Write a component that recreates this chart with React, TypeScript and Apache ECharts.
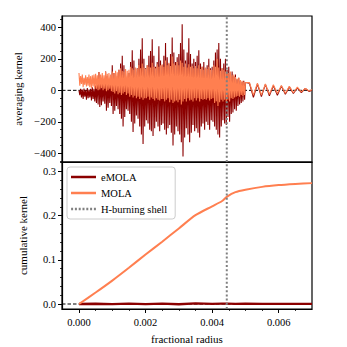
import React, { useEffect, useRef } from "react";
import * as echarts from "echarts";

const FONT = "'Liberation Serif', 'DejaVu Serif', serif";
const EMOLA_COLOR = "#8b0000";
const MOLA_COLOR = "#ff7f50";
const SHELL_COLOR = "#808080";

const X_MIN = -0.00051;
const X_MAX = 0.007;
const KERNEL_MIN = -455;
const KERNEL_MAX = 472;
const CUM_MIN = -0.0113;
const CUM_MAX = 0.3213;
const SHELL_RADIUS = 0.00444;

const xMajorTicks = [0, 0.002, 0.004, 0.006];
const xMinorTicks = [0.0005, 0.001, 0.0015, 0.0025, 0.003, 0.0035, 0.0045, 0.005, 0.0055, 0.0065];
const kernelMajorTicks = [-400, -200, 0, 200, 400];
const kernelMinorTicks = [-450, -350, -300, -250, -150, -100, -50, 50, 100, 150, 250, 300, 350, 450];
const cumMajorTicks = [0, 0.1, 0.2, 0.3];
const cumMinorTicks = [0.02, 0.04, 0.06, 0.08, 0.12, 0.14, 0.16, 0.18, 0.22, 0.24, 0.26, 0.28, 0.32];

// dense sampling grid of the averaging kernels (step 0.000025 from 0 to 0.005)
const denseStep = 0.000025;
// tail sampling (half-periods of the tail oscillation)
const tailX = [0.00512, 0.00524, 0.00536, 0.00548, 0.0056, 0.00572, 0.00584, 0.00596, 0.00608, 0.0062, 0.00632, 0.00644, 0.00656, 0.00668, 0.0068, 0.00692, 0.007];

const eMolaKernelDense = [
  0, -30, 10, -45, 5, -55, 12, -40, 0, -60, 15, -50, 5, -45, 10, -65, 20, -55, 10, -70,
  30, -80, 60, -90, 117, -106, 80, -95, 40, -70, 50, -85, 120, -130, 90, -110, 55, -80, 70, -100,
  160, -150, 110, -130, 70, -100, 90, -120, 130, -150, 170, -180, 220, -230, 160, -170, 90, -120, 80, -130,
  110, -150, 180, -200, 255, -265, 190, -210, 120, -160, 140, -180, 200, -230, 260, -280, 330, -340, 200, -230,
  140, -190, 160, -210, 220, -250, 250, -260, 325, -290, 220, -240, 150, -200, 180, -230, 280, -260, 190, -220,
  160, -210, 220, -250, 300, -280, 210, -240, 170, -220, 230, -270, 335, -350, 240, -280, 180, -230, 210, -260,
  230, -280, 300, -330, 420, -420, 260, -300, 190, -240, 240, -280, 330, -330, 230, -270, 170, -220, 200, -260,
  180, -240, 220, -270, 255, -300, 170, -230, 150, -210, 180, -250, 140, -200, 160, -220, 200, -250, 140, -190,
  150, -200, 190, -230, 240, -250, 260, -280, 300, -300, 200, -230, 140, -190, 170, -210, 200, -220, 130, -170,
  150, -200, 110, -150, 120, -140, 90, -120, 100, -130, 70, -100, 80, -90, 60, -80, 55, -70, 60, -60,
  50,
];
const eMolaKernelTail = [45, -45, 40, -40, 38, -35, 30, -32, 28, -25, 22, -20, 15, -15, 12, -8, 2];

const molaKernelDense = [
  110, 30, 90, 40, 100, 20, 80, 35, 95, 25, 85, 30, 100, 20, 90, 15, 95, 25, 100, 10,
  105, 10, 95, 0, 115, 5, 100, 15, 110, 0, 95, 10, 120, -5, 105, 0, 110, 10, 100, -5,
  120, -10, 110, -20, 125, -5, 115, -25, 130, -15, 140, -30, 125, -20, 120, -10, 135, -30, 125, -20,
  130, -40, 150, -30, 140, -45, 130, -35, 145, -50, 135, -40, 160, -55, 140, -45, 170, -60, 145, -50,
  135, -50, 160, -40, 150, -60, 145, -45, 175, -55, 150, -65, 140, -50, 165, -60, 150, -65, 160, -55,
  165, -55, 150, -70, 190, -60, 160, -50, 175, -75, 155, -60, 215, -80, 170, -70, 160, -65, 180, -75,
  160, -60, 190, -90, 175, -70, 150, -55, 170, -70, 145, -50, 165, -65, 150, -60, 155, -70, 140, -50,
  155, -65, 140, -50, 160, -70, 135, -55, 150, -60, 130, -55, 145, -60, 135, -50, 150, -65, 130, -55,
  130, -50, 160, -80, 150, -70, 200, -100, 145, -75, 125, -60, 140, -70, 130, -60, 120, -75, 115, -60,
  110, -70, 120, -50, 95, -55, 100, -45, 85, -40, 75, -35, 80, -40, 65, -30, 60, -35, 55, -30,
  50,
];
const molaKernelTail = [50, -30, 45, -30, 40, -25, 35, -20, 30, -18, 25, -15, 20, -10, 12, -5, 5];

const cumX = [0, 0.0005, 0.001, 0.0015, 0.002, 0.0025, 0.003, 0.0035, 0.004, 0.0043, 0.00445, 0.0047, 0.005, 0.0055, 0.006, 0.0065, 0.007];
const molaCumulative = [0, 0.026, 0.053, 0.082, 0.112, 0.141, 0.171, 0.201, 0.221, 0.233, 0.243, 0.253, 0.2585, 0.265, 0.269, 0.2715, 0.2735];
const eMolaCumulative = [0, 0.0006, -0.0004, 0.0008, -0.0003, 0.001, -0.0005, 0.0012, 0.0003, 0.001, 0.0008, 0.0004, 0.0006, 0.0002, 0.0005, 0.0001, 0.0003];

const kernelSeries = (dense: number[], tail: number[]) => [
  ...dense.map((v, i) => [i * denseStep, v]),
  ...tail.map((v, i) => [tailX[i], v]),
];

const minus = (s: string) => s.replace("-", "\u2212");

// legend icons: a solid bar and a row of dots, both 25 x 2.5
const BAR_ICON = "path://M0,0L25,0L25,2.5L0,2.5Z";
const DOT_ICON =
  "path://M0,0h2v2.5h-2zM3.8,0h2v2.5h-2zM7.6,0h2v2.5h-2zM11.4,0h2v2.5h-2zM15.2,0h2v2.5h-2zM19,0h2v2.5h-2zM22.8,0h2v2.5h-2z";

export default function App() {
  const ref = useRef<HTMLDivElement>(null);
  useEffect(() => {
    if (!ref.current) return;
    const chart = echarts.init(ref.current, undefined, { renderer: "svg" });
    const axisLine = { show: true, onZero: false, lineStyle: { color: "#000", width: 1.2 } };
    const hiddenLine = { show: false, onZero: false };
    const label = { fontFamily: FONT, fontSize: 10.5, color: "#000" };
    const nameStyle = { fontFamily: FONT, fontSize: 11, color: "#000" };
    const shellStyle = { color: SHELL_COLOR, width: 2, type: [2, 2.2] as any };
    const zeroStyle = { color: "#000", width: 1, type: [3.5, 2] as any };
    chart.setOption({
      animation: false,
      backgroundColor: "#fff",
      grid: [
        { left: 62, right: 35, top: 16, height: 146, show: true, borderColor: "#000", borderWidth: 1.2 },
        { left: 62, right: 35, top: 162, height: 147, show: true, borderColor: "#000", borderWidth: 1.2 },
      ],
      legend: {
        data: [
          { name: "eMOLA", icon: BAR_ICON },
          { name: "MOLA", icon: BAR_ICON },
          { name: "H-burning shell", icon: DOT_ICON },
        ],
        orient: "vertical",
        left: 67,
        top: 167,
        itemWidth: 25,
        itemHeight: 2.5,
        itemGap: 4,
        padding: [4, 8, 4, 4],
        borderColor: "#cccccc",
        borderWidth: 1,
        borderRadius: 3,
        backgroundColor: "rgba(255,255,255,0.85)",
        textStyle: { fontFamily: FONT, fontSize: 10.5, color: "#000", height: 12, lineHeight: 12 },
        selectedMode: false,
      },
      xAxis: [
        {
          type: "value", gridIndex: 0, min: X_MIN, max: X_MAX, position: "bottom",
          axisLine, axisTick: { show: false }, axisLabel: { show: false }, splitLine: { show: false },
        },
        {
          type: "value", gridIndex: 1, min: X_MIN, max: X_MAX, position: "bottom",
          name: "fractional radius", nameLocation: "middle", nameGap: 24,
          nameTextStyle: nameStyle,
          axisLine,
          axisTick: { show: true, length: 4, customValues: xMajorTicks, lineStyle: { color: "#000", width: 1 } },
          axisLabel: { ...label, margin: 8, customValues: xMajorTicks, formatter: (v: number) => v.toFixed(3) },
          splitLine: { show: false },
        },
        {
          type: "value", gridIndex: 1, min: X_MIN, max: X_MAX, position: "bottom",
          axisLine: hiddenLine,
          axisTick: { show: true, length: 2, customValues: xMinorTicks, lineStyle: { color: "#000", width: 0.8 } },
          axisLabel: { show: false }, splitLine: { show: false },
        },
      ],
      yAxis: [
        {
          type: "value", gridIndex: 0, min: KERNEL_MIN, max: KERNEL_MAX, position: "left",
          name: "averaging kernel", nameLocation: "middle", nameGap: 34, nameTextStyle: nameStyle,
          axisLine,
          axisTick: { show: true, length: 4, customValues: kernelMajorTicks, lineStyle: { color: "#000", width: 1 } },
          axisLabel: { ...label, margin: 6, customValues: kernelMajorTicks, formatter: (v: number) => minus(String(v)) },
          splitLine: { show: false },
        },
        {
          type: "value", gridIndex: 0, min: KERNEL_MIN, max: KERNEL_MAX, position: "left",
          axisLine: hiddenLine,
          axisTick: { show: true, length: 2, customValues: kernelMinorTicks, lineStyle: { color: "#000", width: 0.8 } },
          axisLabel: { show: false }, splitLine: { show: false },
        },
        {
          type: "value", gridIndex: 1, min: CUM_MIN, max: CUM_MAX, position: "left",
          name: "cumulative kernel", nameLocation: "middle", nameGap: 34, nameTextStyle: nameStyle,
          axisLine,
          axisTick: { show: true, length: 4, customValues: cumMajorTicks, lineStyle: { color: "#000", width: 1 } },
          axisLabel: { ...label, margin: 6, customValues: cumMajorTicks, formatter: (v: number) => v.toFixed(1) },
          splitLine: { show: false },
        },
        {
          type: "value", gridIndex: 1, min: CUM_MIN, max: CUM_MAX, position: "left",
          axisLine: hiddenLine,
          axisTick: { show: true, length: 2, customValues: cumMinorTicks, lineStyle: { color: "#000", width: 0.8 } },
          axisLabel: { show: false }, splitLine: { show: false },
        },
      ],
      series: [
        {
          name: "zeroTop", type: "line", xAxisIndex: 0, yAxisIndex: 0, z: 1, silent: true,
          symbol: "none", data: [[X_MIN, 0], [X_MAX, 0]], lineStyle: zeroStyle,
        },
        {
          name: "eMOLA", type: "line", xAxisIndex: 0, yAxisIndex: 0, z: 2,
          symbol: "none", color: EMOLA_COLOR,
          data: kernelSeries(eMolaKernelDense, eMolaKernelTail),
          lineStyle: { color: EMOLA_COLOR, width: 1.1 },
        },
        {
          name: "MOLA", type: "line", xAxisIndex: 0, yAxisIndex: 0, z: 3,
          symbol: "none", color: MOLA_COLOR,
          data: kernelSeries(molaKernelDense, molaKernelTail),
          lineStyle: { color: MOLA_COLOR, width: 1.1 },
        },
        {
          name: "H-burning shell", type: "line", xAxisIndex: 0, yAxisIndex: 0, z: 4,
          symbol: "none", color: SHELL_COLOR,
          data: [[SHELL_RADIUS, KERNEL_MIN], [SHELL_RADIUS, KERNEL_MAX]],
          lineStyle: shellStyle,
        },
        {
          name: "zeroBottom", type: "line", xAxisIndex: 1, yAxisIndex: 2, z: 1, silent: true,
          symbol: "none", data: [[X_MIN, 0], [X_MAX, 0]], lineStyle: zeroStyle,
        },
        {
          name: "eMOLA", type: "line", xAxisIndex: 1, yAxisIndex: 2, z: 2,
          symbol: "none", color: EMOLA_COLOR,
          data: cumX.map((x, i) => [x, eMolaCumulative[i]]),
          lineStyle: { color: EMOLA_COLOR, width: 2.3 },
        },
        {
          name: "MOLA", type: "line", xAxisIndex: 1, yAxisIndex: 2, z: 3,
          symbol: "none", color: MOLA_COLOR, smooth: 0.25,
          data: cumX.map((x, i) => [x, molaCumulative[i]]),
          lineStyle: { color: MOLA_COLOR, width: 2 },
        },
        {
          name: "H-burning shell", type: "line", xAxisIndex: 1, yAxisIndex: 2, z: 4,
          symbol: "none", color: SHELL_COLOR,
          data: [[SHELL_RADIUS, CUM_MIN], [SHELL_RADIUS, CUM_MAX]],
          lineStyle: shellStyle,
        },
      ],
    });
    return () => chart.dispose();
  }, []);
  return (
    <div
      ref={ref}
      style={{ position: "fixed", left: 0, top: 0, width: 347, height: 347, background: "#fff" }}
    />
  );
}
